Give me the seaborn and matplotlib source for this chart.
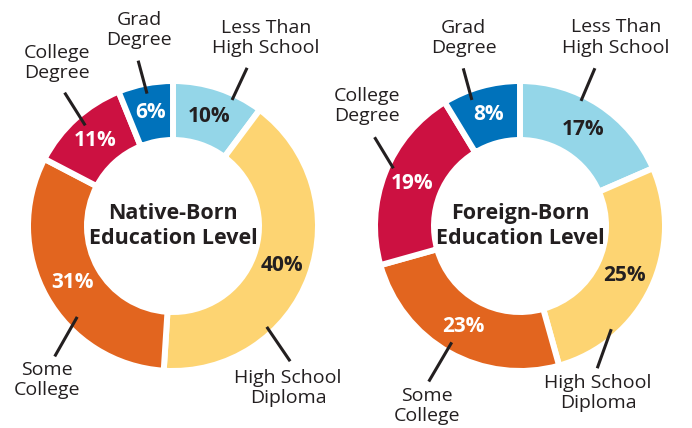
"""
Native-born vs foreign-born education level: two donut charts.
"""

import numpy as np
import matplotlib.pyplot as plt
import seaborn as sns

# --- data -------------------------------------------------------------
CATEGORIES = ["Less Than\nHigh School", "High School\nDiploma",
              "Some\nCollege", "College\nDegree", "Grad\nDegree"]
NATIVE_PCT = [10, 40, 31, 11, 6]
FOREIGN_PCT = [17, 25, 23, 19, 8]
TITLES = ["Native-Born\nEducation Level", "Foreign-Born\nEducation Level"]

COLORS = ["#94D6E8", "#FDD472", "#E2651F", "#CC1141", "#0072BB"]
PCT_TEXT = ["#231F20", "#231F20", "white", "white", "white"]
DARK = "#231F20"

# --- layout (pixel space, y up) ---------------------------------------
W, H = 692, 428
R_VIS = 142          # visible outer radius
RING = 53            # visible ring thickness
GAP = 4.3            # white gap between wedges (pt)
CENTERS = [(173, H - 226), (520, H - 226)]
PCT_R = 0.815

# per label: (line start angle, r, line end angle, r, text angle, r)
# angles clockwise from 12 o'clock, radii in units of R_VIS
LEADERS = [
    [(25.1, 0.98, 25.1, 1.23, 26.3, 1.48),
     (137.1, 0.97, 139.1, 1.26, 144.6, 1.40),
     (226.5, 0.93, 222.2, 1.24, 219.3, 1.40),
     (318.9, 0.94, 320.9, 1.21, 324.7, 1.41),
     (348.9, 0.95, 348.1, 1.19, 350.2, 1.40)],
    [(26.0, 0.98, 25.4, 1.23, 27.0, 1.49),
     (138.5, 0.97, 151.5, 1.14, 155.0, 1.30),
     (210.4, 0.95, 210.4, 1.27, 207.3, 1.43),
     (294.5, 0.98, 301.4, 1.20, 308.0, 1.37),
     (339.1, 0.95, 340.2, 1.18, 343.3, 1.38)],
]


def polar(center, ang, r):
    a = np.deg2rad(ang)
    return center[0] + r * R_VIS * np.sin(a), center[1] + r * R_VIS * np.cos(a)


def main():
    sns.set_theme(style="white")
    plt.rcParams["font.family"] = ["Open Sans", "DejaVu Sans"]

    fig = plt.figure(figsize=(W / 100, H / 100), dpi=100)
    ax = fig.add_axes([0, 0, 1, 1])

    # ring drawn a bit larger because the white edge eats half the stroke
    pad = GAP / 72 * 100 / 2
    for i, vals in enumerate([NATIVE_PCT, FOREIGN_PCT]):
        c = CENTERS[i]
        ax.pie(vals, colors=COLORS, startangle=90, counterclock=False,
               center=c, radius=R_VIS + pad,
               wedgeprops=dict(width=RING + 2 * pad, edgecolor="white",
                               linewidth=GAP))

        frac = np.array(vals, dtype=float) / sum(vals)
        mids = (np.cumsum(frac) - frac / 2) * 360
        for j, v in enumerate(vals):
            x, y = polar(c, mids[j], PCT_R)
            ax.text(x, y, f"{v}%", ha="center", va="center", fontsize=15,
                    fontweight="bold", color=PCT_TEXT[j])

            a0, r0, a1, r1, ta, tr = LEADERS[i][j]
            x0, y0 = polar(c, a0, r0)
            x1, y1 = polar(c, a1, r1)
            ax.plot([x0, x1], [y0, y1], color=DARK, lw=2.2,
                    solid_capstyle="butt")
            tx, ty = polar(c, ta, tr)
            ax.text(tx, ty, CATEGORIES[j], ha="center", va="center",
                    fontsize=14, color=DARK, linespacing=1.15)

        ax.text(c[0], c[1], TITLES[i], ha="center", va="center",
                fontsize=15.5, fontweight="bold", color=DARK, linespacing=1.25)

    ax.set_xlim(0, W)
    ax.set_ylim(0, H)
    ax.set_aspect("equal")
    ax.axis("off")
    fig.savefig("out.png", dpi=100, facecolor="white")
    plt.close(fig)


if __name__ == "__main__":
    main()
